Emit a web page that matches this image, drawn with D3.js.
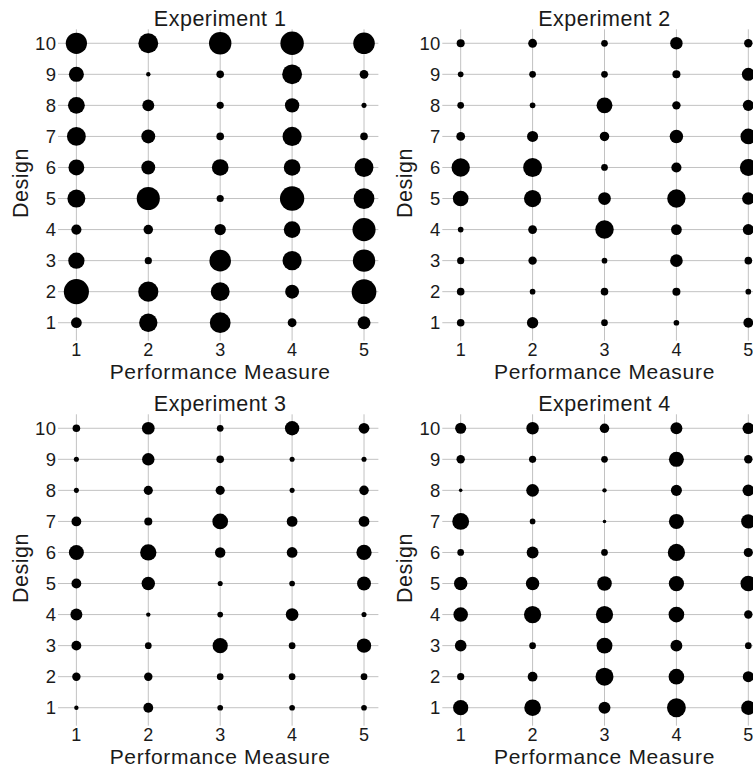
<!DOCTYPE html>
<html>
<head>
<meta charset="utf-8">
<script src="https://cdn.jsdelivr.net/npm/d3@7/dist/d3.min.js"></script>
<style>
  html, body { margin: 0; padding: 0; background: #fff; }
  svg { display: block; }
  text { font-family: "Liberation Sans", Arial, sans-serif; fill: #1a1a1a; }
</style>
</head>
<body>
<script>
// ---- data ----
const measures = [1, 2, 3, 4, 5];
const designs = [1, 2, 3, 4, 5, 6, 7, 8, 9, 10];
const titles = ["Experiment 1", "Experiment 2", "Experiment 3", "Experiment 4"];
// each row = one design (1..10), values for performance measures 1..5
const exp1 = [
  [18, 52, 67, 12, 26],
  [98, 63, 55, 30, 95],
  [41, 8, 72, 57, 78],
  [16, 14, 20, 43, 83],
  [50, 83, 8, 92, 67],
  [39, 30, 43, 43, 55],
  [55, 30, 9, 57, 9],
  [44, 22, 8, 32, 4],
  [35, 3, 9, 61, 12],
  [70, 61, 78, 85, 72]
];
const exp2 = [
  [9, 20, 7, 5, 15],
  [9, 5, 9, 10, 5],
  [8, 11, 5, 25, 9],
  [5, 12, 53, 18, 19],
  [38, 46, 25, 52, 24],
  [52, 55, 7, 16, 44],
  [12, 19, 14, 28, 38],
  [7, 5, 39, 11, 19],
  [5, 7, 7, 10, 26],
  [10, 12, 7, 24, 11]
];
const exp3 = [
  [3, 15, 5, 5, 5],
  [11, 11, 7, 7, 7],
  [15, 7, 36, 7, 32],
  [22, 3, 5, 25, 4],
  [15, 28, 4, 5, 30],
  [35, 41, 17, 18, 36],
  [15, 10, 38, 18, 18],
  [4, 13, 13, 4, 14],
  [4, 24, 9, 4, 4],
  [9, 25, 7, 32, 18]
];
const exp4 = [
  [36, 43, 22, 55, 32],
  [8, 15, 50, 38, 19],
  [21, 7, 39, 22, 7],
  [33, 46, 46, 38, 11],
  [28, 28, 33, 36, 38],
  [7, 22, 7, 46, 13],
  [44, 5, 2, 35, 32],
  [2, 25, 3, 19, 21],
  [11, 8, 7, 35, 11],
  [19, 24, 14, 22, 21]
];
const experiments = [exp1, exp2, exp3, exp4];

// ---- layout ----
const W = 753, H = 769;
const svg = d3.select("body").append("svg").attr("width", W).attr("height", H);

const panelDX = 384.3, panelDY = 385;
const pLeft = 62, pRight = 378.4, pTop = 29.3, pBottom = 336.7;
const gridColor = "#c2c2c2";

const size = d3.scaleSqrt().domain([0, 100]).range([0, 12.7]);

experiments.forEach((data, k) => {
  const col = k % 2, row = Math.floor(k / 2);
  const g = svg.append("g")
    .attr("transform", `translate(${col * panelDX},${row * panelDY})`);

  const x = d3.scaleLinear().domain([0.8, 5.2]).range([pLeft, pRight]);
  const y = d3.scaleLinear().domain([0.55, 10.45]).range([pBottom, pTop]);

  // grid
  g.append("g").selectAll("line.h").data(designs).join("line")
    .attr("x1", pLeft - 4).attr("x2", pRight)
    .attr("y1", d => y(d)).attr("y2", d => y(d))
    .attr("stroke", gridColor).attr("stroke-width", 1);
  g.append("g").selectAll("line.v").data(measures).join("line")
    .attr("x1", d => x(d)).attr("x2", d => x(d))
    .attr("y1", pTop).attr("y2", pBottom + 4)
    .attr("stroke", gridColor).attr("stroke-width", 1);

  // tick labels
  g.append("g").selectAll("text").data(designs).join("text")
    .attr("x", pLeft - 5.5).attr("y", d => y(d)).attr("dy", "0.36em")
    .attr("text-anchor", "end").attr("font-size", 18.5)
    .attr("letter-spacing", 0.4)
    .text(d => d);
  g.append("g").selectAll("text").data(measures).join("text")
    .attr("x", d => x(d)).attr("y", 356.3)
    .attr("text-anchor", "middle").attr("font-size", 18)
    .text(d => d);

  // bubbles
  const pts = [];
  data.forEach((vals, i) => vals.forEach((v, j) => pts.push({ d: designs[i], m: measures[j], v })));
  g.append("g").selectAll("circle").data(pts).join("circle")
    .attr("cx", p => x(p.m)).attr("cy", p => y(p.d))
    .attr("r", p => size(p.v)).attr("fill", "#000");

  // titles
  const cx = (pLeft + pRight) / 2;
  g.append("text").attr("x", cx).attr("y", 25.7)
    .attr("text-anchor", "middle").attr("font-size", 21.5)
    .attr("letter-spacing", 0.5).text(titles[k]);
  g.append("text").attr("x", cx).attr("y", 379.3)
    .attr("text-anchor", "middle").attr("font-size", 21)
    .attr("letter-spacing", 0.7).text("Performance Measure");
  g.append("text")
    .attr("transform", `translate(27.5,${(y(1) + y(10)) / 2}) rotate(-90)`)
    .attr("text-anchor", "middle").attr("font-size", 21.5)
    .attr("letter-spacing", 0.5).text("Design");
});
</script>
</body>
</html>
